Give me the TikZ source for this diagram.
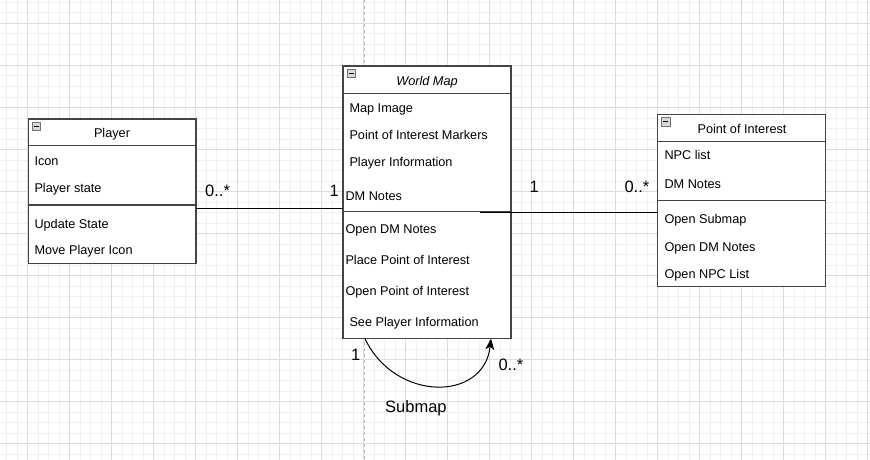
\documentclass[tikz,border=0pt]{standalone}
\usepackage{fontspec}
\setmainfont{Liberation Sans}
\usetikzlibrary{arrows.meta}
\definecolor{gridminor}{HTML}{F0F0F0}
\definecolor{gridmajor}{HTML}{DCDCDC}
\definecolor{boxline}{HTML}{444444}
\tikzset{
  boxfr/.style={draw=boxline, line width=1.4pt, fill=white},
  sepline/.style={draw=boxline, line width=1.3pt},
  member/.style={anchor=base west, inner sep=0pt, font=\fontsize{12.7}{15}\selectfont},
  header/.style={anchor=base, inner sep=0pt, font=\fontsize{12.7}{15}\selectfont},
  elabel/.style={anchor=base west, inner sep=0pt, font=\fontsize{16.5}{19}\selectfont},
  conn/.style={draw=black, line width=1pt},
  icon/.style={draw=gray!90!black, fill=gray!30, line width=0.9pt, minimum size=8.5pt, inner sep=0pt}
}
\begin{document}
\begin{tikzpicture}[x=1pt,y=-1pt]
\useasboundingbox (0,0) rectangle (870,460);
\fill[white] (0,0) rectangle (870,460);
% grid
\foreach \i in {0,...,83} {
  \draw[gridminor, line width=0.6pt] ({6.3+10.5*\i},0) -- ({6.3+10.5*\i},460);
}
\foreach \j in {0,...,44} {
  \draw[gridminor, line width=0.6pt] (0,{2.3+10.5*\j}) -- (870,{2.3+10.5*\j});
}
\foreach \i in {0,...,20} {
  \draw[gridmajor, line width=0.8pt] ({27.3+42*\i},0) -- ({27.3+42*\i},460);
}
\foreach \j in {0,...,10} {
  \draw[gridmajor, line width=0.8pt] (0,{23.3+42*\j}) -- (870,{23.3+42*\j});
}
\draw[gray!55, line width=0.8pt, dash pattern=on 3pt off 3pt] (364,0) -- (364,460);

% ---------- Player ----------
\draw[boxfr] (28.3,119) rectangle (196,263.3);
\draw[sepline] (28.3,145.7) -- (196,145.7);
\draw[sepline] (28.3,205) -- (196,205);
\node[icon] (picon) at (36.2,126.2) {};
\draw[black, line width=1.1pt] (33.8,126.2) -- (38.6,126.2);
\node[header] (ph) at (112,137.5) {Player};
\node[member] (p1) at (34.3,165.5) {Icon};
\node[member] (p2) at (34.3,192) {Player state};
\node[member] (p3) at (34.3,228) {Update State};
\node[member] (p4) at (34.3,254.7) {Move Player Icon};
\coordinate (playerR) at (196,208.3);

% ---------- World Map ----------
\draw[boxfr] (343,66) rectangle (511,338.7);
\draw[sepline] (343,93.3) -- (511,93.3);
\draw[sepline] (343,211.7) -- (511,211.7);
\node[icon] (wicon) at (351.5,73.5) {};
\draw[black, line width=1.1pt] (349.1,73.5) -- (353.9,73.5);
\node[header, font=\fontsize{12.7}{15}\selectfont\itshape] (wh) at (427,85.5) {World Map};
\node[member] (w1) at (349.3,112.5) {Map Image};
\node[member] (w2) at (349.3,139) {Point of Interest Markers};
\node[member] (w3) at (349.3,166.5) {Player Information};
\node[member] (w4) at (345.3,200.7) {DM Notes};
\node[member] (w5) at (345.3,233) {Open DM Notes};
\node[member] (w6) at (345.3,264) {Place Point of Interest};
\node[member] (w7) at (345.3,295.7) {Open Point of Interest};
\node[member] (w8) at (349.3,326) {See Player Information};
\coordinate (wmL) at (343,208.3);
\coordinate (wmR) at (480,212.7);
\coordinate (loopA) at (365,338.7);
\coordinate (loopB) at (491,338.7);

% ---------- Point of Interest ----------
\draw[boxfr] (657.7,114.3) rectangle (825.7,286.7);
\draw[sepline] (657.7,141.7) -- (825.7,141.7);
\draw[sepline] (657.7,200.7) -- (825.7,200.7);
\node[icon] (poicon) at (665.8,121.7) {};
\draw[black, line width=1.1pt] (663.4,121.7) -- (668.2,121.7);
\node[header] (poih) at (742,133) {Point of Interest};
\node[member] (q1) at (664.3,159.7) {NPC list};
\node[member] (q2) at (664.3,188) {DM Notes};
\node[member] (q3) at (664.3,223) {Open Submap};
\node[member] (q4) at (664.3,251.4) {Open DM Notes};
\node[member] (q5) at (664.3,278) {Open NPC List};
\coordinate (poiL) at (657.7,212.7);

% ---------- connectors ----------
\draw[conn] (playerR) -- (wmL);
\draw[conn] (wmR) -- (poiL);
\draw[conn, -{Stealth[length=11pt,width=9pt,inset=3pt]}] (loopA) .. controls (395,402) and (484,402) .. (loopB);

% ---------- labels ----------
\node[elabel] (l1) at (205,196.7) {0..*};
\node[elabel] (l2) at (329.3,196.7) {1};
\node[elabel] (l3) at (529.3,192.7) {1};
\node[elabel] (l4) at (624.3,192.7) {0..*};
\node[elabel] (l5) at (351,360.7) {1};
\node[elabel] (l6) at (498.3,370.7) {0..*};
\node[elabel] (l7) at (385,412.7) {Submap};
\end{tikzpicture}
\end{document}
